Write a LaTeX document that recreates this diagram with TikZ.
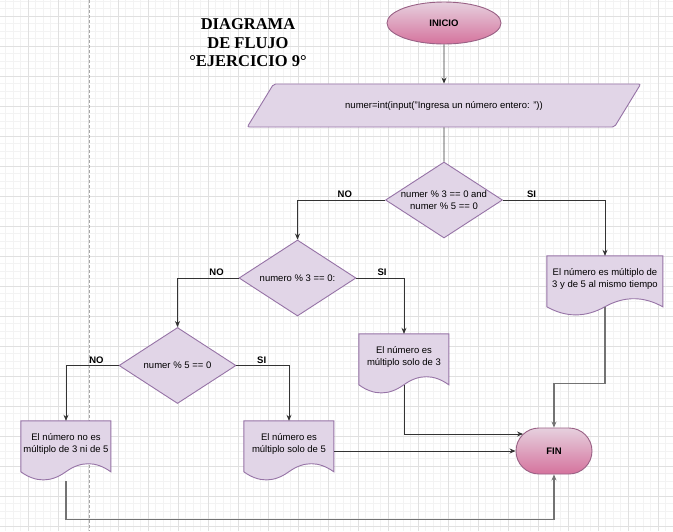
\documentclass[tikz,border=0pt]{standalone}
\usepackage{fontspec}
\setmainfont{Liberation Sans}
\newfontfamily\titlefont{Liberation Serif}
\usetikzlibrary{shapes.geometric, shapes.misc, arrows.meta, positioning}

\definecolor{docfill}{HTML}{E1D5E7}
\definecolor{docline}{HTML}{9673A6}
\definecolor{pinktop}{HTML}{E6D0DE}
\definecolor{pinkbot}{HTML}{D5739D}
\definecolor{pinkline}{HTML}{996185}
\definecolor{gridminor}{HTML}{F3F3F3}
\definecolor{gridmajor}{HTML}{E0E0E0}

\pgfdeclarelayer{grid}
\pgfdeclarelayer{background}
\pgfsetlayers{grid,background,main}

\tikzset{
  terminal/.style={draw=pinkline, line width=0.9pt, top color=pinktop, bottom color=pinkbot,
    inner sep=0pt, font=\bfseries\fontsize{9.5}{12}\selectfont},
  io/.style={trapezium, trapezium left angle=30.5, trapezium right angle=149.5,
    trapezium stretches=true, minimum width=394pt, minimum height=43pt,
    draw=docline, fill=docfill, line width=0.9pt, rounded corners=2pt, inner sep=0pt},
  decision/.style={diamond, aspect=1.54, minimum width=117pt, minimum height=76pt,
    draw=docline, fill=docfill, line width=0.9pt, inner sep=0pt, align=center},
  docbox/.style={rectangle, minimum width=90pt, minimum height=46pt, inner sep=0pt, align=center},
  docshape/.style={draw=docline, fill=docfill, line width=0.9pt},
  titletext/.style={align=center, font=\titlefont\bfseries\fontsize{16.5}{18.5}\selectfont},
  lbl/.style={anchor=south, inner sep=2pt, font=\bfseries\fontsize{9.5}{12}\selectfont},
  flow/.style={draw=black!80, line width=0.8pt},
  flowarrow/.style={flow, -{Stealth[length=6pt, width=5pt]}},
  flowgrey/.style={draw=black!55, line width=1.1pt, -{Stealth[length=6pt, width=5pt]}},
  gridminorline/.style={draw=gridminor, line width=0.6pt},
  gridmajorline/.style={draw=gridmajor, line width=0.7pt},
  pagebreak/.style={draw=black!35, line width=0.7pt, dash pattern=on 3pt off 2pt}
}

% document shape: flat top, wavy bottom
\newcommand{\docwave}[2]{%
  \path[docshape, shift={(#1.north west)}] (0,0) -- (#2,0) -- (#2,51)
    .. controls ({5*#2/6},40.2) and ({2*#2/3},40.2) .. ({#2/2},51)
    .. controls ({#2/3},61.8) and ({#2/6},61.8) .. (0,51) -- cycle;}

\begin{document}
\begin{tikzpicture}[x=1pt, y=-1pt, on grid, font=\fontsize{9.5}{12}\selectfont]
  \useasboundingbox (0,0) rectangle (673,531);

  % grid paper
  \begin{pgfonlayer}{grid}
    \fill[white] (0,0) rectangle (673,531);
    \foreach \gx in {5.5,13,...,673} \draw[gridminorline] (\gx,0) -- (\gx,531);
    \foreach \gy in {1,8.5,...,531} \draw[gridminorline] (0,\gy) -- (673,\gy);
    \foreach \gx in {28,58,...,673} \draw[gridmajorline] (\gx,0) -- (\gx,531);
    \foreach \gy in {16,46,...,531} \draw[gridmajorline] (0,\gy) -- (673,\gy);
    \draw[pagebreak] (89,0) -- (89,531);
  \end{pgfonlayer}

  \node (title) [titletext] at (248,43) {DIAGRAMA\\DE FLUJO\\°EJERCICIO 9°};

  \node (ini) [terminal, ellipse, minimum width=114pt, minimum height=42pt] at (444,23) {INICIO};
  \node (inp) [io, below=82.5pt of ini] {numer=int(input("Ingresa un número entero: "))};
  \node (d1) [decision, below=94.5pt of inp] {numer \% 3 == 0 and\\numer \% 5 == 0};
  \node (d2) [decision, below left=78pt and 146.5pt of d1] {numero \% 3 == 0:};
  \node (d3) [decision, below left=87.5pt and 120pt of d2] {numer \% 5 == 0};
  \node (doc1) [docbox, minimum width=116pt, below right=79pt and 161pt of d1] {El número es múltiplo de\\3 y de 5 al mismo tiempo};
  \node (doc2) [docbox, below right=79pt and 106.5pt of d2] {El número es\\múltiplo solo de 3};
  \node (doc3) [docbox, below left=78.5pt and 111.5pt of d3] {El número no es\\múltiplo de 3 ni de 5};
  \node (doc4) [docbox, below right=78.5pt and 111.5pt of d3] {El número es\\múltiplo solo de 5};
  \node (fin) [terminal, rounded rectangle, minimum width=76pt, minimum height=46pt, below right=7pt and 265pt of doc4] {FIN};

  \begin{pgfonlayer}{background}
    \docwave{doc1}{116}
    \docwave{doc2}{90}
    \docwave{doc3}{90}
    \docwave{doc4}{90}
  \end{pgfonlayer}

  \draw[flowarrow] (ini) -- (inp);
  \draw[flow] (inp) -- (d1);
  \draw[flowarrow] (d1.west) -| node[lbl, pos=0.23] {NO} (d2.north);
  \draw[flowarrow] (d1.east) -| node[lbl, pos=0.14] {SI} (doc1.north);
  \draw[flowarrow] (d2.west) -| node[lbl, pos=0.18] {NO} (d3.north);
  \draw[flowarrow] (d2.east) -| node[lbl, pos=0.27] {SI} (doc2.north);
  \draw[flowarrow] (d3.west) -| node[lbl, pos=0.21] {NO} (doc3.north);
  \draw[flowarrow] (d3.east) -| node[lbl, pos=0.24] {SI} (doc4.north);

  \draw[flowgrey] ([yshift=-5pt]doc1.south) -- ++(0,76) -| (fin.north);
  \draw[flowarrow] ([yshift=-5pt]doc2.south) |- ([xshift=7.5pt, yshift=17pt]fin.west);
  \draw[flowarrow] (doc4.east |- fin.west) -- (fin.west);
  \draw[flowgrey] ([yshift=-14pt]doc3.south) -- ++(0,38) -| (fin.south);
\end{tikzpicture}
\end{document}
